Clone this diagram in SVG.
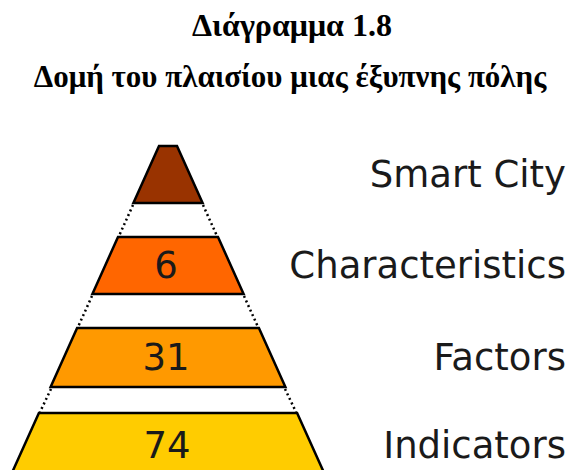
<svg xmlns="http://www.w3.org/2000/svg" width="571" height="470" viewBox="0 0 571 470">
<style>
.title{font-family:"Liberation Serif","Times New Roman",serif;font-weight:bold;font-size:32px;fill:#000;text-anchor:middle}
.tier{stroke:#000;stroke-width:2.5;stroke-linejoin:miter}
.num{font-family:"DejaVu Sans",Verdana,sans-serif;font-size:37px;fill:#1a1a1a;text-anchor:middle}
.lbl{font-family:"DejaVu Sans",Verdana,sans-serif;font-size:37px;fill:#1a1a1a;text-anchor:end}
.dot{stroke:#000;stroke-width:2.5;stroke-dasharray:2 3;fill:none}
</style>
<rect width="571" height="470" fill="#fff"/>
<g id="title">
<text class="title" x="292" y="36">Διάγραμμα 1.8</text>
<text class="title" x="290" y="87" style="font-size:31px">Δομή του πλαισίου μιας έξυπνης πόλης</text>
</g>
<g id="connectors">
<line class="dot" x1="133" y1="205" x2="119" y2="236"/>
<line class="dot" x1="203" y1="205" x2="217" y2="236"/>
<line class="dot" x1="92" y1="296" x2="78" y2="327"/>
<line class="dot" x1="244" y1="296" x2="258" y2="327"/>
<line class="dot" x1="51" y1="389" x2="40" y2="412"/>
<line class="dot" x1="285" y1="389" x2="296" y2="412"/>
</g>
<g id="smart-city">
<polygon class="tier" fill="#993300" points="159,146 177,146 202.6,203 133.4,203"/>
<text class="lbl" x="566" y="187">Smart City</text>
</g>
<g id="characteristics">
<polygon class="tier" fill="#FF6600" points="118,237 218,237 243.6,294 92.4,294"/>
<text class="num" x="166" y="278">6</text>
<text class="lbl" x="566" y="278">Characteristics</text>
</g>
<g id="factors">
<polygon class="tier" fill="#FF9900" points="77.1,328 258.9,328 285.4,387 50.6,387"/>
<text class="num" x="166" y="370">31</text>
<text class="lbl" x="566" y="370">Factors</text>
</g>
<g id="indicators">
<polygon class="tier" fill="#FFCC00" points="38.9,413 297.1,413 330,486 6,486"/>
<text class="num" x="167" y="458">74</text>
<text class="lbl" x="566" y="458">Indicators</text>
</g>
</svg>
